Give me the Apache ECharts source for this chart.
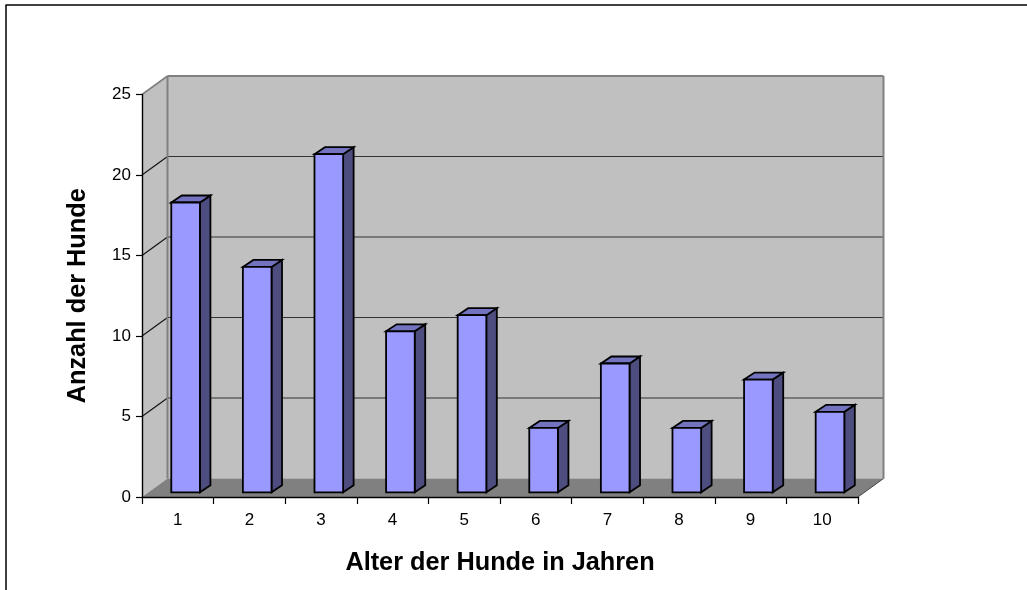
<!DOCTYPE html>
<html><head><meta charset="utf-8">
<style>html,body{margin:0;padding:0;background:#fff}#c{width:1027px;height:590px}</style>
<script src="https://cdn.jsdelivr.net/npm/echarts@6/dist/echarts.min.js"></script>
</head><body><div id="c"></div>
<script>
const categories = ['1','2','3','4','5','6','7','8','9','10'];
const dogCounts = [18,14,21,10,11,4,8,4,7,5];
const gridLevels = [5,10,15,20];
const yMax = 25, yStep = 5;
const xTitle = 'Alter der Hunde in Jahren';
const yTitle = 'Anzahl der Hunde';

const DX = 25.5, DY = -18.5;        // depth of the plot box
const BDX = 10.5, BDY = -7;         // depth of a column
const ODX = 7.8, ODY = -4.7;        // column offset from the front plane
const FONT = '"Liberation Sans", Arial, sans-serif';

function poly(pts, fill, stroke, lw) {
  return { type:'polygon', shape:{points:pts},
    style:{fill:fill, stroke:stroke||'none', lineWidth:lw||0, lineJoin:'miter'} };
}
function seg(a,b,color,lw){
  return { type:'line', shape:{x1:a[0],y1:a[1],x2:b[0],y2:b[1]},
    style:{stroke:color,lineWidth:lw,fill:'none'} };
}
function renderBox(params, api){
  const cs = params.coordSys;
  const l = cs.x, r = cs.x+cs.width, t = cs.y, b = cs.y+cs.height;
  const items = [
    poly([[l,t],[l+DX,t+DY],[l+DX,b+DY],[l,b]], '#c0c0c0'),
    poly([[l+DX,t+DY],[r+DX,t+DY],[r+DX,b+DY],[l+DX,b+DY]], '#c0c0c0'),
    poly([[l,b],[l+DX,b+DY],[r+DX,b+DY],[r,b]], '#808080')
  ];
  gridLevels.forEach(v=>{
    const y = api.coord([0,v])[1];
    items.push(seg([l+DX,y+DY],[r+DX,y+DY],'#333333',1.2));
    items.push(seg([l,y],[l+DX,y+DY],'#111111',1.1));
  });
  items.push(seg([l,t],[l+DX,t+DY],'#808080',1.6));
  items.push(seg([l+DX,t+DY],[r+DX,t+DY],'#808080',2));
  items.push(seg([l+DX,t+DY],[l+DX,b+DY],'#808080',2));
  items.push(seg([r+DX,t+DY],[r+DX,b+DY],'#808080',2));
  items.push(seg([r,b],[r+DX,b+DY],'#444444',1));
  return {type:'group',children:items};
}
function renderBar(params, api){
  const p = api.coord([api.value(0), api.value(1)]);
  const p0 = api.coord([api.value(0), 0]);
  const w = api.size([1,0])[0]*0.4;
  const x0 = p[0]-w/2+ODX, x1 = x0+w, yt = p[1]+ODY, yb = p0[1]+ODY;
  const S='#000', L=1.8;
  return {type:'group',children:[
    poly([[x1,yt],[x1+BDX,yt+BDY],[x1+BDX,yb+BDY],[x1,yb]],'#4d4d80',S,L),
    poly([[x0,yt],[x0+BDX,yt+BDY],[x1+BDX,yt+BDY],[x1,yt]],'#7373bf',S,L),
    poly([[x0,yt],[x1,yt],[x1,yb],[x0,yb]],'#9999ff',S,L)
  ]};
}
const chart = echarts.init(document.getElementById('c'),null,{renderer:'canvas'});
chart.setOption({
  animation:false,
  backgroundColor:'#fff',
  grid:{left:142,right:169,top:94.5,bottom:93,containLabel:false},
  xAxis:{type:'category',data:categories,z:3,
    axisLine:{lineStyle:{color:'#000',width:1.4}},
    axisTick:{show:true,length:7,lineStyle:{color:'#000',width:1.2}},
    axisLabel:{color:'#000',fontFamily:FONT,fontSize:17,margin:15},
    splitLine:{show:false},
    name:xTitle,nameLocation:'middle',nameGap:54,
    nameTextStyle:{color:'#000',fontFamily:FONT,fontSize:25.3,fontWeight:'bold'}},
  yAxis:{type:'value',min:0,max:yMax,interval:yStep,z:3,
    axisLine:{show:true,lineStyle:{color:'#000',width:1.4}},
    axisTick:{show:true,length:6,lineStyle:{color:'#000',width:1.2}},
    axisLabel:{color:'#000',fontFamily:FONT,fontSize:17,margin:11},
    splitLine:{show:false},
    name:yTitle,nameLocation:'middle',nameGap:51,
    nameTextStyle:{color:'#000',fontFamily:FONT,fontSize:25.3,fontWeight:'bold'}},
  graphic:[
    {type:'line',z:10,shape:{x1:5.5,y1:5,x2:1027,y2:5},style:{stroke:'#000',lineWidth:1.5}},
    {type:'line',z:10,shape:{x1:6,y1:5,x2:6,y2:590},style:{stroke:'#000',lineWidth:1.5}}
  ],
  series:[
    {type:'custom',coordinateSystem:'cartesian2d',z:1,silent:true,clip:false,
      data:[[0,0]],renderItem:renderBox},
    {type:'custom',coordinateSystem:'cartesian2d',z:5,silent:true,clip:false,
      data:dogCounts.map((v,i)=>[i,v]),encode:{x:0,y:1},renderItem:renderBar}
  ]
});
</script></body></html>
